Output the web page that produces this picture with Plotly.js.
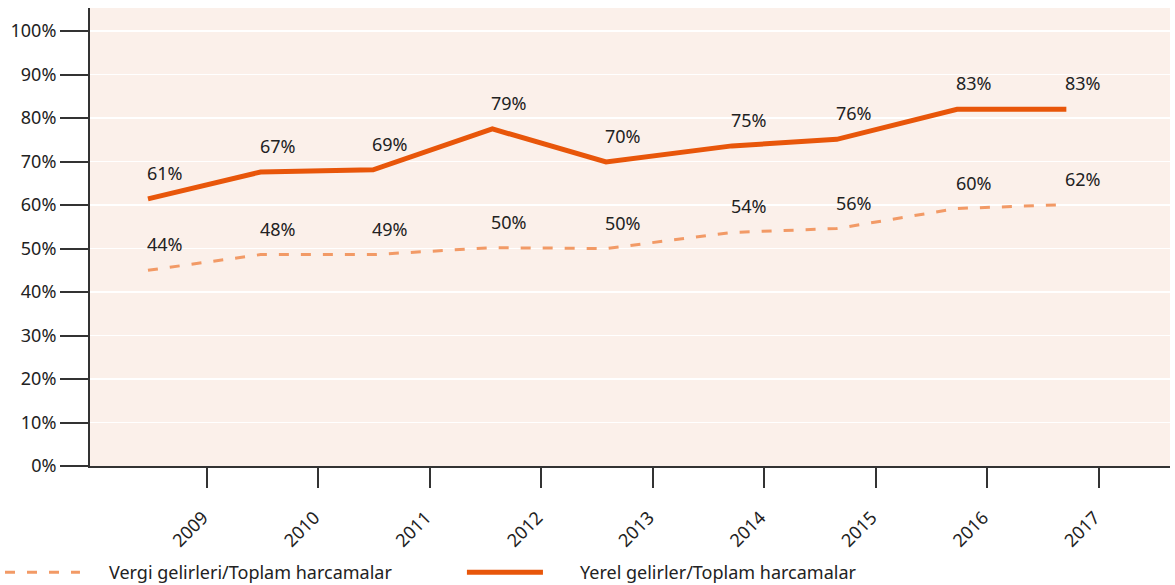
<!DOCTYPE html>
<html>
<head>
<meta charset="utf-8">
<script src="https://cdn.plot.ly/plotly-3.0.1.min.js"></script>
<style>
html,body{margin:0;padding:0;background:#ffffff;}
#chart{width:1175px;height:585px;}
</style>
</head>
<body>
<div id="chart"></div>
<script>
// Year tick labels
var years = [2009, 2010, 2011, 2012, 2013, 2014, 2015, 2016, 2017];
var obsTime = [2008.47, 2009.48, 2010.49, 2011.56, 2012.58, 2013.71, 2014.65, 2015.73, 2016.71];

// Series 1: Vergi gelirleri / Toplam harcamalar (dashed)
var vergiName = "Vergi gelirleri/Toplam harcamalar";
var vergiValues = [45.0, 48.6, 48.6, 50.2, 50.0, 53.7, 54.6, 59.2, 60.1];
var vergiLabels = ["44%", "48%", "49%", "50%", "50%", "54%", "56%", "60%", "62%"];

// Series 2: Yerel gelirler / Toplam harcamalar (solid)
var yerelName = "Yerel gelirler/Toplam harcamalar";
var yerelValues = [61.4, 67.6, 68.1, 77.5, 69.9, 73.6, 75.1, 82.0, 82.0];
var yerelLabels = ["61%", "67%", "69%", "79%", "70%", "75%", "76%", "83%", "83%"];

var yTicks = [0, 10, 20, 30, 40, 50, 60, 70, 80, 90, 100];

var FONT = "Noto Sans, Open Sans, DejaVu Sans, sans-serif";
var TXT = "#222222";
var SOLID = "#E8560A";
var DASH = "#F29A66";
var FS = 18;

var traces = [
  {
    x: obsTime, y: vergiValues, type: "scatter", mode: "lines",
    name: vergiName,
    line: {color: DASH, width: 3, dash: "10px,12px"},
    showlegend: false, hoverinfo: "skip"
  },
  {
    x: obsTime, y: yerelValues, type: "scatter", mode: "lines",
    name: yerelName,
    line: {color: SOLID, width: 5},
    showlegend: false, hoverinfo: "skip"
  }
];

var annotations = [];
function addLabels(vals, labels) {
  for (var i = 0; i < vals.length; i++) {
    annotations.push({
      x: obsTime[i], y: vals[i], xref: "x", yref: "y",
      text: labels[i], showarrow: false,
      xshift: 17, yshift: 26,
      font: {family: FONT, size: FS, color: TXT}
    });
  }
}
addLabels(vergiValues, vergiLabels);
addLabels(yerelValues, yerelLabels);

// custom legend texts
annotations.push({
  xref: "paper", yref: "paper", x: 0.0157, y: -0.2318,
  xanchor: "left", yanchor: "middle", showarrow: false,
  text: vergiName, font: {family: FONT, size: FS, color: TXT}
});
annotations.push({
  xref: "paper", yref: "paper", x: 0.4519, y: -0.2318,
  xanchor: "left", yanchor: "middle", showarrow: false,
  text: yerelName, font: {family: FONT, size: FS, color: TXT}
});

var shapes = [
  {type: "line", xref: "paper", yref: "paper",
   x0: -0.0787, x1: -0.0093, y0: -0.2318, y1: -0.2318,
   line: {color: DASH, width: 3, dash: "10px,12px"}},
  {type: "line", xref: "paper", yref: "paper",
   x0: 0.349, x1: 0.4194, y0: -0.2318, y1: -0.2318,
   line: {color: SOLID, width: 5}}
];

var layout = {
  width: 1175, height: 585,
  margin: {l: 90, r: 5, t: 8, b: 119, pad: 0},
  paper_bgcolor: "#ffffff",
  plot_bgcolor: "#FBF0EA",
  showlegend: false,
  font: {family: FONT, size: FS, color: TXT},
  xaxis: {
    range: [2007.95, 2017.64],
    tickmode: "array", tickvals: years, ticktext: years.map(String),
    tickangle: -45,
    ticks: "outside", ticklen: 20, tickwidth: 2, tickcolor: "#333333",
    ticklabelstandoff: 12,
    ticklabelshift: -4,
    showline: true, linecolor: "#333333", linewidth: 2,
    showgrid: false, zeroline: false,
    tickfont: {family: FONT, size: FS, color: TXT}
  },
  yaxis: {
    range: [0, 105.3],
    tickmode: "array", tickvals: yTicks, ticktext: yTicks.map(function(v){return v + "%";}),
    ticks: "outside", ticklen: 28, tickwidth: 2, tickcolor: "#333333",
    showline: true, linecolor: "#333333", linewidth: 2,
    showgrid: true, gridcolor: "#ffffff", gridwidth: 1.5,
    zeroline: false,
    tickfont: {family: FONT, size: FS, color: TXT}
  },
  annotations: annotations,
  shapes: shapes
};

Plotly.newPlot("chart", traces, layout, {staticPlot: true, displayModeBar: false});
</script>
</body>
</html>
